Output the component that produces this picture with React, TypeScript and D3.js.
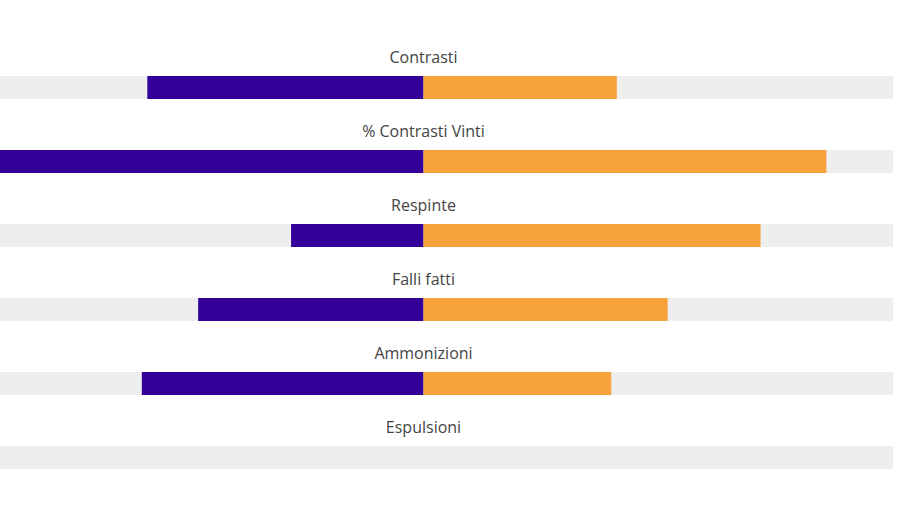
import React from "react";
import * as d3 from "d3";

const categories = ["Contrasti", "% Contrasti Vinti", "Respinte", "Falli fatti", "Ammonizioni", "Espulsioni"];
const homeValues = [20, 98, 11, 12, 3, 0];
const awayValues = [14, 85.8, 28, 13, 2, 0];
const isPercent = [false, true, false, false, false, false];

const W = 900;
const H = 506;
const CENTER = 423.5;
const HALF = 469.5;
const ROW_TOP = 76;
const ROW_STEP = 74;
const BAR_H = 23;

export default function App() {
  const y = d3
    .scaleLinear()
    .domain([0, categories.length])
    .range([ROW_TOP, ROW_TOP + ROW_STEP * categories.length]);

  return (
    <svg
      width={W}
      height={H}
      style={{ position: "absolute", left: 0, top: 0, background: "#fff" }}
    >
      {categories.map((cat, i) => {
        const total = isPercent[i] ? 100 : homeValues[i] + awayValues[i];
        const s = d3
          .scaleLinear()
          .domain([0, total > 0 ? total : 1])
          .range([0, HALF]);
        const y0 = y(i);
        const lw = s(homeValues[i]);
        const rw = s(awayValues[i]);
        return (
          <g key={cat}>
            <text
              x={CENTER}
              y={y0 - 13}
              textAnchor="middle"
              fontFamily="'Open Sans', sans-serif"
              fontSize={16}
              fill="#444"
            >
              {cat}
            </text>
            <rect x={CENTER - HALF} y={y0} width={HALF * 2} height={BAR_H} fill="#eeeeee" />
            <rect x={CENTER - lw} y={y0} width={lw} height={BAR_H} fill="#330099" />
            <rect x={CENTER} y={y0} width={rw} height={BAR_H} fill="#f8a23c" />
          </g>
        );
      })}
    </svg>
  );
}
